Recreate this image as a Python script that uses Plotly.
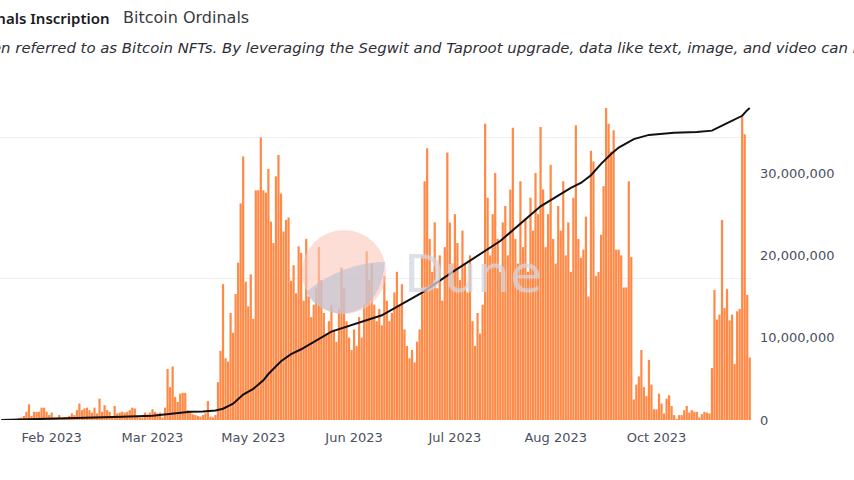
import pandas as pd
import plotly.graph_objects as go

# daily values (millions), one per day from 2023-01-22
daily_m = [
    0, 0, 0, 0, 0, 0, 0.1, 0.2, 0.3, 0.5,
    1.0, 1.9, 0.5, 1.0, 1.0, 1.0, 1.5, 1.5, 1.0, 0.6,
    0.9, 0.3, 0.3, 0.6, 0.2, 0.3, 0.3, 0.5, 0.8, 0.6,
    1.2, 2.0, 1.2, 1.4, 1.5, 1.2, 0.9, 1.5, 0.8, 2.6,
    1.0, 1.8, 1.2, 1.0, 0.4, 1.7, 0.8, 0.9, 1.0, 0.9,
    1.0, 1.2, 1.5, 1.4, 0.5, 0.3, 0.3, 0.9, 0.7, 0.9,
    1.3, 1.0, 0.8, 0.9, 0.3, 1.5, 6.2, 4.0, 6.5, 2.8,
    2.2, 3.2, 3.3, 3.3, 1.2, 1.0, 0.7, 0.6, 0.5, 0.4,
    0.6, 0.8, 2.3, 0.4, 0.3, 0.6, 4.6, 8.4, 16.5, 7.5,
    7.1, 13.0, 10.6, 15.3, 19.1, 26.3, 32.0, 16.8, 13.8, 17.7,
    12.3, 27.9, 27.9, 34.3, 27.9, 27.6, 30.5, 24.1, 21.5, 29.6,
    32.2, 27.5, 22.9, 24.3, 24.6, 16.9, 18.8, 15.4, 21.1, 20.3,
    14.5, 22.0, 15.0, 12.5, 14.0, 16.0, 21.0, 17.0, 13.0, 10.5,
    12.0, 14.0, 11.0, 9.5, 13.5, 18.5, 16.0, 12.0, 10.0, 8.5,
    11.0, 9.0, 12.5, 10.0, 14.0, 20.5, 17.0, 19.0, 14.0, 12.0,
    13.5, 11.5, 17.5, 14.5, 12.0, 13.0, 15.5, 18.0, 14.0, 16.5,
    11.0, 9.0, 7.5, 8.5, 7.0, 9.5, 11.0, 20.0, 29.0, 33.0,
    22.0, 18.0, 24.0, 16.0, 20.0, 14.5, 21.0, 32.5, 24.0, 19.0,
    25.0, 21.5, 17.0, 23.0, 19.0, 15.5, 20.0, 12.0, 9.0, 13.0,
    10.5, 14.0, 36.0, 27.0, 20.0, 25.0, 30.0, 22.0, 18.0, 24.0,
    26.0, 20.0, 28.0, 35.5, 22.0, 19.0, 29.0, 21.0, 24.5, 18.0,
    27.0, 23.0, 30.0, 25.0, 35.6, 28.0, 21.0, 25.0, 31.0, 22.0,
    19.0, 26.0, 23.0, 29.0, 20.0, 24.0, 18.0, 27.0, 35.8, 22.0,
    19.7, 20.7, 24.7, 15.0, 32.7, 31.4, 17.5, 18.0, 22.5, 28.4,
    37.9, 36.0, 32.6, 35.2, 20.7, 20.7, 20.0, 16.1, 16.1, 29.0,
    19.8, 2.5, 4.3, 5.3, 8.5, 4.0, 2.9, 7.3, 4.3, 1.3,
    1.3, 3.2, 2.0, 0.8, 2.6, 3.0, 1.7, 0.6, 0.1, 0.6,
    0.6, 1.2, 1.7, 0.9, 1.2, 1.0, 1.0, 0.3, 0.7, 1.0,
    0.9, 0.8, 6.3, 15.8, 12.2, 12.8, 24.3, 13.6, 15.9, 12.1,
    12.8, 6.8, 13.2, 13.5, 36.9, 34.7, 15.2, 7.6,
]
dates = pd.date_range("2023-01-22", periods=len(daily_m), freq="D")
daily = [v * 1e6 for v in daily_m]

# cumulative line (millions), read at sample dates
cum_dates = [
    "2023-01-22", "2023-02-11", "2023-03-03", "2023-03-11", "2023-03-23",
    "2023-03-30", "2023-04-07", "2023-04-12", "2023-04-17", "2023-04-20",
    "2023-04-24", "2023-04-28", "2023-05-02", "2023-05-06", "2023-05-08",
    "2023-05-13", "2023-05-17", "2023-05-21", "2023-06-02", "2023-06-22",
    "2023-07-08", "2023-07-20", "2023-08-08", "2023-08-24", "2023-09-05",
    "2023-09-09", "2023-09-13", "2023-09-17", "2023-09-21", "2023-09-24",
    "2023-09-30", "2023-10-06", "2023-10-16", "2023-10-25", "2023-10-31",
    "2023-11-05", "2023-11-08", "2023-11-12", "2023-11-14", "2023-11-15",
]
cum_m = [
    0.0, 0.15, 0.3, 0.45, 0.6,
    0.85, 1.15, 1.2, 1.35, 1.6,
    2.3, 3.6, 4.4, 5.6, 6.5,
    8.3, 9.3, 10.0, 12.5, 14.8,
    18.0, 20.9, 25.3, 30.2, 32.8,
    33.5, 34.6, 36.2, 37.6, 38.5,
    39.7, 40.3, 40.6, 40.7, 40.9,
    41.8, 42.3, 43.0, 43.8, 44.1,
]
cum = [v * 1e6 for v in cum_m]

FONT = "DejaVu Sans"
W_PLOT = 751  # plot width in px (l margin 0)
H_PLOT = 320

fig = go.Figure()
fig.add_trace(go.Bar(x=dates, y=daily, marker_color="#ff8a47",
                     marker_line_width=0, yaxis="y"))
fig.add_trace(go.Scatter(x=pd.to_datetime(cum_dates), y=cum, mode="lines",
                         line=dict(color="#111111", width=2), yaxis="y2"))

fig.update_layout(
    width=854, height=480,
    margin=dict(l=0, r=103, t=100, b=60),
    paper_bgcolor="white", plot_bgcolor="white",
    showlegend=False, bargap=0.12,
    font=dict(family=FONT, color="#555b66", size=13),
    xaxis=dict(
        type="date",
        range=["2023-01-21 12:00", "2023-11-15 12:00"],
        tick0="2023-03-23", dtick=40 * 86400000, tickformat="%b %Y",
        showgrid=False, zeroline=False, showline=False, ticks="",
        ticklabelstandoff=8,
        tickfont=dict(size=13, color="#4a5060"),
    ),
    yaxis=dict(
        side="right", range=[0, 38.87e6], dtick=10e6, tickformat=",",
        showgrid=False, zeroline=False, ticks="", ticklabelstandoff=8,
        tickfont=dict(size=13, color="#4a5060"),
    ),
    yaxis2=dict(
        overlaying="y", side="left", range=[0, 45.23e6], dtick=20e6,
        showticklabels=False, showgrid=True, gridcolor="#efefef",
        zeroline=False, ticks="",
    ),
)

# title, partly cut by the left edge as in the source
fig.add_annotation(text="Bitcoin Ordinals Inscription", xref="paper", yref="paper",
                   x=112 / W_PLOT, y=1 + 82 / H_PLOT, xanchor="right", yanchor="middle",
                   showarrow=False,
                   font=dict(family="Noto Sans", size=15, color="#1b1b1f", weight=600))
fig.add_annotation(text="Bitcoin Ordinals", xref="paper", yref="paper",
                   x=121 / W_PLOT, y=1 + 82 / H_PLOT, xanchor="left", yanchor="middle",
                   showarrow=False, font=dict(size=16, color="#3a3a40"))
fig.add_annotation(
    text="<i>Ordinals are often referred to as Bitcoin NFTs. By leveraging the Segwit and "
         "Taproot upgrade, data like text, image, and video can be inscribed on satoshis.</i>",
    xref="paper", yref="paper", x=-126 / W_PLOT, y=1 + 52 / H_PLOT,
    xanchor="left", yanchor="middle", showarrow=False,
    font=dict(size=14.9, color="#2e2e35"))

# faded Dune watermark
fig.add_shape(type="circle", xref="paper", yref="paper",
              x0=302 / W_PLOT, x1=386 / W_PLOT,
              y0=(420 - 314) / H_PLOT, y1=(420 - 230) / H_PLOT,
              fillcolor="rgba(250,200,188,0.6)", line_width=0, layer="above")
fig.add_shape(type="path", xref="paper", yref="paper",
              path=f"M {306/W_PLOT},{(420-292)/H_PLOT} Q {344/W_PLOT},{(420-262)/H_PLOT} "
                   f"{385/W_PLOT},{(420-262)/H_PLOT} Q {380/W_PLOT},{(420-312)/H_PLOT} "
                   f"{340/W_PLOT},{(420-314)/H_PLOT} Q {315/W_PLOT},{(420-310)/H_PLOT} "
                   f"{306/W_PLOT},{(420-292)/H_PLOT} Z",
              fillcolor="rgba(185,190,208,0.6)", line_width=0, layer="above")
fig.add_annotation(text="Dune", xref="paper", yref="paper",
                   x=402 / W_PLOT, y=(420 - 274) / H_PLOT, xanchor="left", yanchor="middle",
                   showarrow=False, font=dict(size=52, color="rgba(210,213,224,0.75)"))

fig.write_html("out.html", config={"displayModeBar": False},
               post_script="document.body.style.margin='0px';")
